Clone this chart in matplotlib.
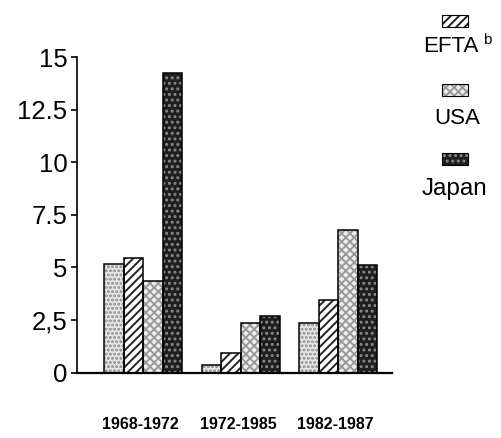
import matplotlib
matplotlib.use("Agg")
import matplotlib.pyplot as plt
from matplotlib.patches import Rectangle
import numpy as np

# Data
periods = ["1968-1972", "1972-1985", "1982-1987"]
series_names = ["EC", "EFTA", "USA", "Japan"]  # first series' legend entry is cut off in the reference
ec_vals = [5.16, 0.37, 2.35]
efta_vals = [5.43, 0.92, 3.45]
usa_vals = [4.36, 2.38, 6.78]
japan_vals = [14.24, 2.69, 5.12]
y_ticks = [0, 2.5, 5, 7.5, 10, 12.5, 15]
y_ticklabels = ["0", "2,5", "5", "7.5", "10", "12.5", "15"]

FONT = ["Liberation Sans", "DejaVu Sans"]
plt.rcParams["font.family"] = FONT
plt.rcParams["hatch.linewidth"] = 1.4

fig = plt.figure(figsize=(5.01, 4.38), dpi=100)
W, H = 501, 438
ax = fig.add_axes([77 / W, 1 - 372.7 / H, 315 / W, (372.7 - 57) / H])

styles = [
    dict(face="#e6e6e6", hatch="....", hcol="#8a8a8a"),
    dict(face="#ffffff", hatch="////", hcol="#222222"),
    dict(face="#eeeeee", hatch="xxxx", hcol="#9a9a9a"),
    dict(face="#1e1e1e", hatch="...", hcol="#8a8a8a"),
]

x = np.arange(len(periods))
bw = 0.2
all_vals = [ec_vals, efta_vals, usa_vals, japan_vals]
for i, (vals, st) in enumerate(zip(all_vals, styles)):
    pos = x + (i - 1.5) * bw
    ax.bar(pos, vals, width=bw, color=st["face"], edgecolor=st["hcol"],
           hatch=st["hatch"], linewidth=0, zorder=2)
    ax.bar(pos, vals, width=bw, fill=False, edgecolor="black",
           linewidth=1.1, zorder=3)

ax.set_xlim(-0.68, 2.55)
ax.set_ylim(0, 15)
for s in ["top", "right"]:
    ax.spines[s].set_visible(False)
ax.spines["left"].set_linewidth(1.2)
ax.spines["bottom"].set_linewidth(1.6)

ax.set_yticks(y_ticks)
ax.set_yticklabels(y_ticklabels, fontsize=18.5)
ax.tick_params(axis="y", direction="out", length=4, width=1.2, pad=3)

ax.set_xticks(x - 0.03)
ax.set_xticklabels(periods, fontsize=11.5, fontweight="bold")
ax.tick_params(axis="x", length=0, pad=32)

# Legend (stacked: swatch above label)
leg = [("EFTA", 1, 15, 47, 451, 16), ("USA", 2, 84, 119, 457, 16),
       ("Japan", 3, 153, 189, 455, 17.5)]
for name, si, py, ty, tx, fs in leg:
    st = styles[si]
    fig.patches.append(Rectangle((442 / W, 1 - (py + 12) / H), 26 / W, 12 / H,
                                 transform=fig.transFigure, facecolor=st["face"],
                                 edgecolor=st["hcol"], hatch=st["hatch"],
                                 linewidth=0))
    fig.patches.append(Rectangle((442 / W, 1 - (py + 12) / H), 26 / W, 12 / H,
                                 transform=fig.transFigure, fill=False,
                                 edgecolor="black", linewidth=0.8))
    fig.text(tx / W, 1 - ty / H, series_names[si], fontsize=fs,
             ha="center", va="center")
fig.text(483 / W, 1 - 40 / H, "b", fontsize=11, ha="left", va="center")

fig.savefig("out.png", dpi=100)
